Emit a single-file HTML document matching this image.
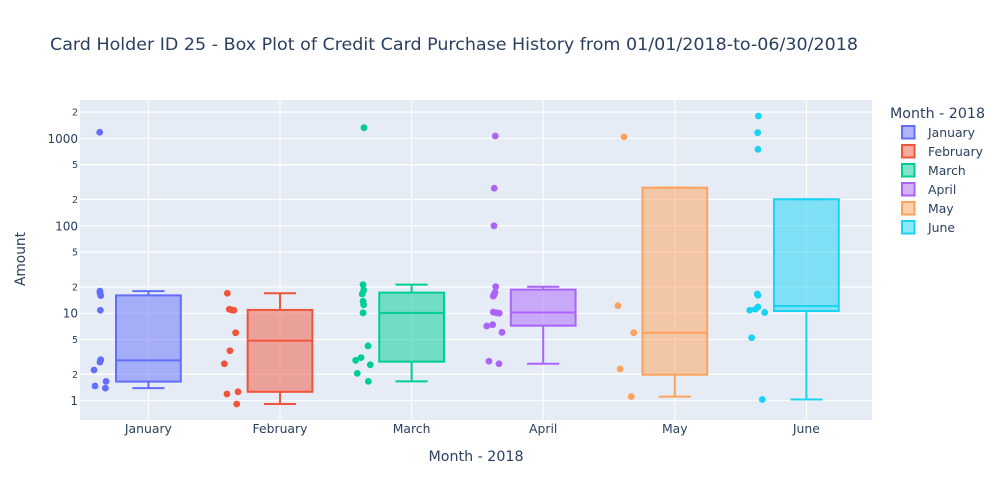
<!DOCTYPE html>
<html>
<head>
<meta charset="utf-8">
<title>Card Holder ID 25 - Box Plot</title>
<style>
html,body{margin:0;padding:0;background:#fff;width:1000px;height:500px;overflow:hidden}
svg{display:block}
text{font-family:"DejaVu Sans","Liberation Sans",sans-serif;fill:#2a3f5f}
</style>
</head>
<body>
<svg id="chart" width="1000" height="500" viewBox="0 0 1000 500" xmlns="http://www.w3.org/2000/svg">
  <rect x="80" y="100" width="792" height="320" fill="#E5ECF6"/>
  <g id="grid"></g>
  <g id="boxes"></g>
  <g id="yticks"></g>
  <g id="xticks"></g>
  <text x="50" y="50" font-size="17" textLength="808" lengthAdjust="spacingAndGlyphs">Card Holder ID 25 - Box Plot of Credit Card Purchase History from 01/01/2018-to-06/30/2018</text>
  <text x="476" y="461" font-size="14" text-anchor="middle" textLength="95" lengthAdjust="spacingAndGlyphs">Month - 2018</text>
  <text transform="translate(25,259) rotate(-90)" font-size="14" text-anchor="middle" textLength="54" lengthAdjust="spacingAndGlyphs">Amount</text>
  <text x="890" y="118" font-size="14" textLength="95" lengthAdjust="spacingAndGlyphs">Month - 2018</text>
  <g id="legend"></g>
</svg>
<script>
const months = ["January","February","March","April","May","June"];
const colors = ["#636efa","#EF553B","#00cc96","#ab63fa","#FFA15A","#19d3f3"];
const yTickValues = [1,2,5,10,20,50,100,200,500,1000,2000];
const yTickLabels = ["1","2","5","10","2","5","100","2","5","1000","2"];

const whiskerLow  = [1.39,0.914,1.66,2.64,1.11,1.03];
const quartile1   = [1.65,1.26,2.79,7.2,1.98,10.6];
const medians     = [2.89,4.85,10.1,10.2,5.98,12.1];
const quartile3   = [16.0,10.9,17.2,18.6,273,201];
const whiskerHigh = [17.9,16.9,21.2,20.1,273,201];

const januaryAmounts  = [1175,17.9,17.2,15.9,10.8,2.94,2.76,2.24,1.66,1.47,1.39];
const februaryAmounts = [16.9,11.1,10.9,10.8,5.98,3.72,2.64,1.26,1.19,0.914];
const marchAmounts    = [1326,21.2,18.4,16.6,13.7,12.5,10.1,4.22,3.1,2.89,2.57,2.05,1.66];
const aprilAmounts    = [1065,269,100,20.1,17.3,16.5,15.7,10.3,10.1,10.0,7.39,7.14,6.04,2.82,2.64];
const mayAmounts      = [1045,12.2,5.98,2.3,1.11];
const juneAmounts     = [1805,1162,750,16.6,16.0,11.8,11.1,10.8,10.2,5.24,1.03];

const januaryJitter  = [-.370,-.368,-.368,-.362,-.365,-.362,-.368,-.413,-.322,-.406,-.327];
const februaryJitter = [-.400,-.385,-.367,-.350,-.337,-.380,-.423,-.319,-.403,-.329];
const marchJitter    = [-.362,-.369,-.364,-.375,-.369,-.364,-.369,-.331,-.384,-.425,-.314,-.413,-.329];
const aprilJitter    = [-.364,-.372,-.374,-.361,-.366,-.372,-.379,-.379,-.353,-.334,-.384,-.429,-.313,-.412,-.336];
const mayJitter      = [-.386,-.432,-.312,-.416,-.331];
const juneJitter     = [-.365,-.370,-.368,-.373,-.368,-.368,-.388,-.431,-.317,-.416,-.335];

const seriesAmounts = [januaryAmounts,februaryAmounts,marchAmounts,aprilAmounts,mayAmounts,juneAmounts];
const seriesJitter  = [januaryJitter,februaryJitter,marchJitter,aprilJitter,mayJitter,juneJitter];

const boxHalfWidth = 0.246;
const capHalfWidth = 0.122;

function xScale(c){ return 148.4 + 131.6 * c; }
function yScale(v){ return 400.6 - 87.4 * Math.log10(v); }

const NS = "http://www.w3.org/2000/svg";
function make(parent, tag, attrs, txt){
  const n = document.createElementNS(NS, tag);
  for (const k in attrs) n.setAttribute(k, attrs[k]);
  if (txt !== undefined) n.textContent = txt;
  parent.appendChild(n);
  return n;
}
const grid = document.getElementById("grid");
const boxes = document.getElementById("boxes");
const yticks = document.getElementById("yticks");
const xticks = document.getElementById("xticks");
const legend = document.getElementById("legend");

yTickValues.forEach((v, i) => {
  const y = yScale(v);
  const major = yTickLabels[i].length > 1 || v === 1;
  const line = make(grid, "line", {x1:80, x2:872, y1:y, y2:y, stroke:"#fff", "stroke-width":major ? 1 : 1.3});
  
  
  const label = make(yticks, "text", {x:78, y:y + (major ? 4.5 : 3.5), "text-anchor":"end", "font-size":major ? 12 : 9.5}, yTickLabels[i]);
  
  
});

months.forEach((m, i) => {
  const cx = xScale(i);
  const line = make(grid, "line", {x1:cx, x2:cx, y1:100, y2:420, stroke:"#fff", "stroke-width":1});
  
  
  const label = make(xticks, "text", {x:cx, y:433, "text-anchor":"middle", "font-size":12.4}, m);
  
  

  const g = make(boxes, "g", {});
  
  
  const c = colors[i];
  const left = xScale(i - boxHalfWidth), right = xScale(i + boxHalfWidth);
  const capL = xScale(i - capHalfWidth), capR = xScale(i + capHalfWidth);
  const yQ1 = yScale(quartile1[i]), yQ3 = yScale(quartile3[i]), yMed = yScale(medians[i]);
  const yLow = yScale(whiskerLow[i]), yHigh = yScale(whiskerHigh[i]);

  const body = make(g, "rect", {x:left, y:yQ3, width:right - left, height:yQ1 - yQ3, fill:c, "fill-opacity":0.5, stroke:c, "stroke-width":2});
  
  
  const med = make(g, "line", {x1:left, x2:right, y1:yMed, y2:yMed, stroke:c, "stroke-width":2});
  
  
  const whisker = make(g, "path", {
    d:"M" + cx + " " + yQ1 + "V" + yLow + "M" + capL + " " + yLow + "H" + capR +
      "M" + cx + " " + yQ3 + "V" + yHigh + "M" + capL + " " + yHigh + "H" + capR,
    fill:"none", stroke:c, "stroke-width":2});
  
  

  seriesAmounts[i].forEach((v, j) => {
    const p = make(g, "circle", {cx:xScale(i + seriesJitter[i][j]), cy:yScale(v), r:3.4, fill:c});
    
    
  });

  const ly = 126 + 19 * i;
  const entry = make(legend, "g", {});
  
  
  const swatch = make(entry, "rect", {x:902, y:ly, width:12.5, height:12.5, fill:c, "fill-opacity":0.5, stroke:c, "stroke-width":2});
  
  
  const lt = make(entry, "text", {x:928, y:ly + 11, "font-size":12.4}, m);
  
  
});
</script>
</body>
</html>
